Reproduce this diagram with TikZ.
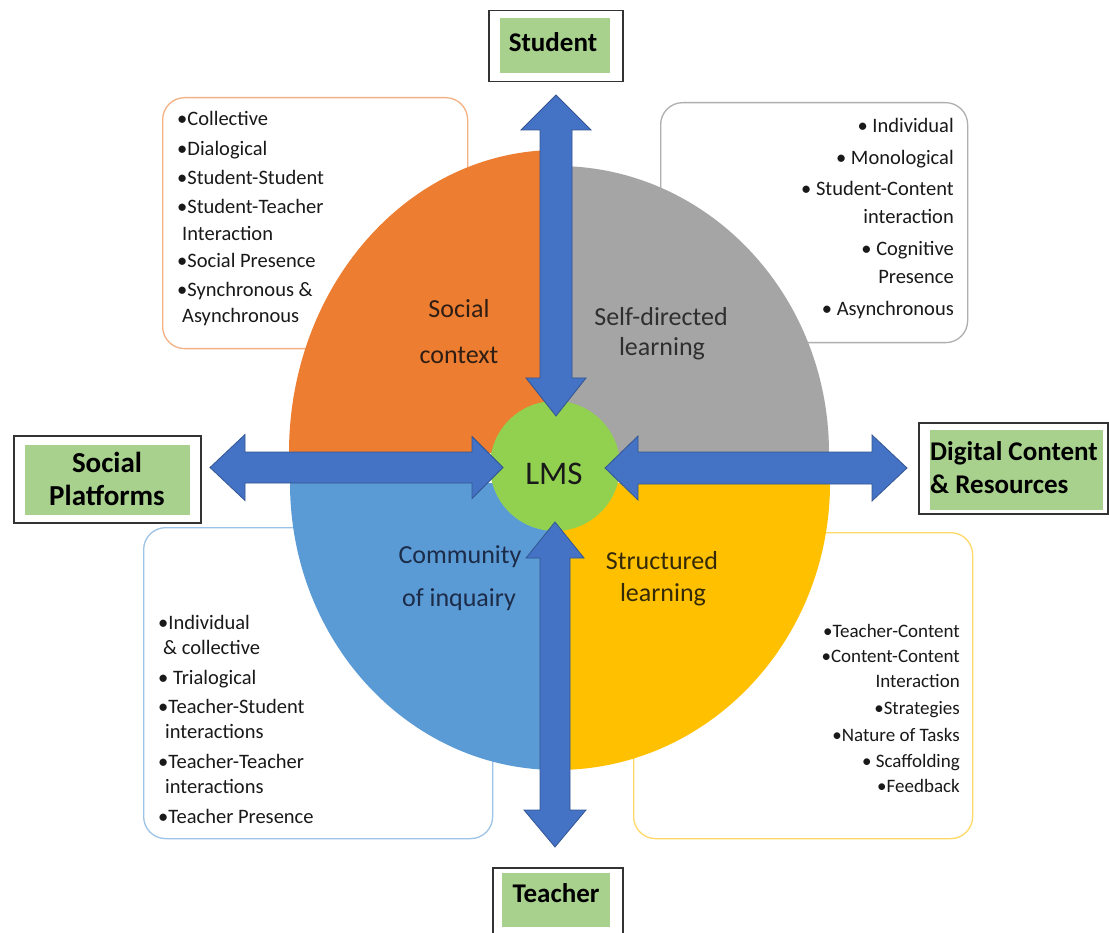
\documentclass[tikz,border=0pt]{standalone}
\usepackage{fontspec}
\setmainfont{Carlito}
\definecolor{qorange}{HTML}{ED7D31}
\definecolor{qgray}{HTML}{A5A5A5}
\definecolor{qblue}{HTML}{5B9BD5}
\definecolor{qyellow}{HTML}{FFC000}
\definecolor{lmsgreen}{HTML}{92D050}
\definecolor{arrowblue}{HTML}{4472C4}
\definecolor{labelgreen}{HTML}{A9D18E}
\definecolor{tlborder}{HTML}{F4B183}
\definecolor{trborder}{HTML}{AFAFAF}
\definecolor{blborder}{HTML}{9DC3E6}
\definecolor{brborder}{HTML}{FFD966}
\definecolor{txtsocial}{HTML}{2E1E14}
\definecolor{txtself}{HTML}{2F2F2F}
\definecolor{txtcomm}{HTML}{1C2B48}
\definecolor{txtstruct}{HTML}{352A08}
\begin{document}
\begin{tikzpicture}[x=1pt,y=1pt,
  listbox/.style={draw, line width=1.3pt, rounded corners=22pt, fill=white, inner sep=0pt},
  listtxt/.style={font=\fontsize{20.5}{24}\selectfont, inner sep=0pt, text height=14pt, text depth=4pt, text=black!90},
  smalltxt/.style={font=\fontsize{19}{22}\selectfont, inner sep=0pt, text height=13pt, text depth=4pt, text=black!90},
  sectortxt/.style={font=\fontsize{26}{30}\selectfont, inner sep=0pt, text height=18pt, text depth=6pt},
  frame/.style={draw=black!80, line width=1.5pt, fill=white, inner sep=0pt, anchor=north west},
  greenbox/.style={fill=labelgreen, inner sep=0pt, anchor=north west},
  labeltxt/.style={inner sep=0pt, align=center, font=\fontsize{27}{31}\bfseries\selectfont},
  blockarrow/.style={fill=arrowblue, draw=arrowblue!75!black, line width=0.8pt, line join=miter},
]
\useasboundingbox (0,0) rectangle (1109,-933);
\clip (0,0) rectangle (1109,-933);
\fill[white] (0,0) rectangle (1109,-933);

% list boxes (behind the quadrants)
\node[listbox, draw=tlborder, minimum width=305pt, minimum height=251pt, anchor=north west] (tlbox) at (162,-97) {};
\node[listbox, draw=trborder, minimum width=307pt, minimum height=240pt, anchor=north west] (trbox) at (660,-102) {};
\node[listbox, draw=blborder, minimum width=349pt, minimum height=311pt, anchor=north west] (blbox) at (143,-527) {};
\node[listbox, draw=brborder, minimum width=339pt, minimum height=306pt, anchor=north west] (brbox) at (633,-532) {};

% quadrants
\fill[qorange] (557,-453) -- (289,-453) arc[start angle=180, end angle=90, x radius=268pt, y radius=303pt] -- cycle;
\fill[qgray] (557,-453) -- (557,-166) arc[start angle=90, end angle=0, x radius=272pt, y radius=287pt] -- cycle;
\fill[qblue] (557,-483) -- (290,-483) arc[start angle=180, end angle=270, x radius=267pt, y radius=287pt] -- cycle;
\fill[qyellow] (557,-483) -- (830,-483) arc[start angle=0, end angle=-90, x radius=273pt, y radius=287pt] -- cycle;

% LMS circle
\node[circle, fill=lmsgreen, minimum size=130pt, inner sep=0pt] (lms) at (555,-466) {};

% block arrows
\draw[blockarrow] (210,-467.5) -- (245,-434.5) -- (245,-452) -- (472,-452) -- (472,-436.5) -- (503,-467.5) -- (472,-498.5) -- (472,-483) -- (245,-483) -- (245,-500.5) -- cycle;
\draw[blockarrow] (605,-468) -- (638,-436) -- (638,-452) -- (872,-452) -- (872,-435) -- (907,-468) -- (872,-501) -- (872,-484) -- (638,-484) -- (638,-500) -- cycle;
\draw[blockarrow] (556,-95) -- (591,-130) -- (572,-130) -- (572,-378) -- (586,-378) -- (556,-416) -- (526,-378) -- (540,-378) -- (540,-130) -- (521,-130) -- cycle;
\draw[blockarrow] (555,-522) -- (584,-558) -- (570,-558) -- (570,-810) -- (586,-810) -- (555,-847) -- (524,-810) -- (540,-810) -- (540,-558) -- (526,-558) -- cycle;

% LMS text
\node[font=\fontsize{33}{36}\selectfont, inner sep=0pt, text=black!90] (lmstxt) at (554,-474) {LMS};

% sector labels
\node[sectortxt, text=txtsocial] (soc1) at (459,-312) {Social};
\node[sectortxt, text=txtsocial] (soc2) at (459,-357) {context};
\node[sectortxt, text=txtself] (self1) at (661,-320) {Self-directed};
\node[sectortxt, text=txtself] (self2) at (662,-350) {learning};
\node[sectortxt, text=txtcomm] (com1) at (460,-557) {Community};
\node[sectortxt, text=txtcomm] (com2) at (459,-600) {of inquairy};
\node[sectortxt, text=txtstruct] (str1) at (662,-563) {Structured};
\node[sectortxt, text=txtstruct] (str2) at (663,-595) {learning};

% top-left list
\foreach \t/\x/\y [count=\i] in {{•Collective}/177/121, {•Dialogical}/177/151, {•Student-Student}/177/180, {•Student-Teacher}/177/209, {Interaction}/182/236, {•Social Presence}/177/263, {•Synchronous \&}/177/292, {Asynchronous}/182/318}
  \node[listtxt, anchor=west] (tl\i) at (\x,-\y) {\t};

% top-right list
\foreach \t/\y [count=\i] in {{• Individual}/128, {• Monological}/160, {• Student-Content}/191, {interaction}/219, {• Cognitive}/251, {Presence}/279, {• Asynchronous}/311}
  \node[listtxt, anchor=east] (tr\i) at (954,-\y) {\t};

% bottom-left list
\foreach \t/\x/\y [count=\i] in {{•Individual}/158/624, {\& collective}/163/649, {• Trialogical}/158/679, {•Teacher-Student}/158/708, {interactions}/165/733, {•Teacher-Teacher}/158/763, {interactions}/165/788, {•Teacher Presence}/158/818}
  \node[listtxt, anchor=west] (bl\i) at (\x,-\y) {\t};

% bottom-right list
\foreach \t/\y [count=\i] in {{•Teacher-Content}/633, {•Content-Content}/658, {Interaction}/683, {•Strategies}/710, {•Nature of Tasks}/737, {• Scaffolding}/763, {•Feedback}/788}
  \node[smalltxt, anchor=east] (br\i) at (960,-\y) {\t};

% label boxes
\node[frame, minimum width=134pt, minimum height=71pt] (studentframe) at (488,-10) {};
\node[greenbox, minimum width=110pt, minimum height=55pt] (studentbox) at (500,-18) {};
\node[labeltxt] (student) at (553,-42) {Student};
\node[frame, minimum width=130pt, minimum height=80pt] (teacherframe) at (492,-867) {};
\node[greenbox, minimum width=108pt, minimum height=54pt] (teacherbox) at (502,-873) {};
\node[labeltxt] (teacher) at (556,-893) {Teacher};
\node[frame, minimum width=187pt, minimum height=87pt] (socialframe) at (13,-435) {};
\node[greenbox, minimum width=165pt, minimum height=70pt] (socialbox) at (25,-445) {};
\node[labeltxt, font=\fontsize{29}{33}\bfseries\selectfont] (social) at (107,-479) {Social\\Platforms};
\node[frame, minimum width=189pt, minimum height=91pt] (digitalframe) at (918,-422) {};
\node[greenbox, minimum width=173pt, minimum height=80pt] (digitalbox) at (930,-430) {};
\node[labeltxt, align=left, anchor=west, font=\fontsize{27}{33}\bfseries\selectfont] (digital) at (930,-468) {Digital Content\\\& Resources};
\end{tikzpicture}
\end{document}
